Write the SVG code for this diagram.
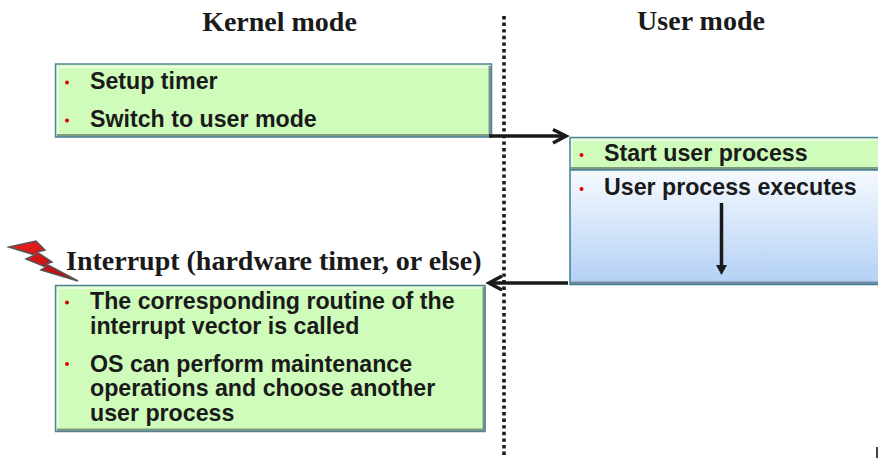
<svg xmlns="http://www.w3.org/2000/svg" width="878" height="458" viewBox="0 0 878 458">
<style>
.t{font-family:"Liberation Sans",Arial,sans-serif;font-weight:700;font-size:23.2px;fill:#1a1a1a}
.h{font-family:"Liberation Serif","Times New Roman",serif;font-weight:700;font-size:28px;fill:#1a1a1a}
.b{fill:#d90000}
.g{fill:#cffcbb}
.f{fill:none;stroke:#4e8299;stroke-width:1.5}
.hi{fill:none;stroke:#eafde2;stroke-width:2}
.sh{fill:none;stroke:#7f9a80;stroke-width:3}
.c{fill:none;stroke:#1a1a1a;stroke-width:3.5}
</style>
<defs>
<linearGradient id="blue" x1="0" y1="0" x2="0" y2="1"><stop offset="0" stop-color="#f6faff"/><stop offset="1" stop-color="#b3d0f5"/></linearGradient>
<linearGradient id="bolt" x1="0" y1="0" x2="1" y2="1"><stop offset="0" stop-color="#f02020"/><stop offset="1" stop-color="#b00808"/></linearGradient>
</defs>
<rect width="878" height="458" fill="#fff"/>

<g id="divider"><line x1="504" y1="16" x2="504" y2="458" stroke="#1a1a1a" stroke-width="3.6" stroke-dasharray="3.4 3.2"/></g>

<g id="kernel-title"><text class="h" x="279.500" y="31" text-anchor="middle">Kernel mode</text></g>
<g id="user-title"><text class="h" x="701" y="30" text-anchor="middle">User mode</text></g>

<g id="kernel-box-1">
<rect class="g" x="56" y="64.500" width="435" height="72"/>
<path class="hi" d="M58 135V67H489"/>
<path class="sh" d="M57 135.500H490V66"/>
<rect class="f" x="55.500" y="64" width="436" height="73"/>
<circle class="b" cx="67" cy="82.500" r="2"/><text class="t" x="90" y="89">Setup timer</text>
<circle class="b" cx="67" cy="120.500" r="2"/><text class="t" x="90" y="127">Switch to user mode</text>
</g>

<g id="interrupt-label">
<path d="M9 247L36 241L45 250L37 252L52 262L46 264L78 281L41 270L46 267L26 259L35 255Z" fill="url(#bolt)" stroke="#555" stroke-width="1.500"/>
<text class="h" x="66" y="270">Interrupt (hardware timer, or else)</text>
</g>

<g id="kernel-box-2">
<rect class="g" x="56" y="286" width="429" height="145"/>
<path class="hi" d="M58 430V288H483"/>
<path class="sh" d="M57 430H484V287"/>
<rect class="f" x="55.500" y="285.500" width="429.500" height="146"/>
<circle class="b" cx="67" cy="302.500" r="2"/>
<text class="t" x="90" y="309">The corresponding routine of the</text>
<text class="t" x="90" y="334">interrupt vector is called</text>
<circle class="b" cx="67" cy="364" r="2"/>
<text class="t" x="90" y="372">OS can perform maintenance</text>
<text class="t" x="90" y="396">operations and choose another</text>
<text class="t" x="90" y="421">user process</text>
</g>

<g id="user-start">
<rect class="g" x="570" y="138" width="309" height="32"/>
<path class="hi" d="M572 168V140H879"/>
<path class="sh" d="M571 168.500H879"/>
<path class="f" d="M879 137.500H570V170"/>
<circle class="b" cx="581.500" cy="155" r="2"/>
<text class="t" x="604" y="161">Start user process</text>
</g>

<g id="user-exec">
<rect x="570" y="170" width="309" height="114" fill="url(#blue)"/>
<path d="M571 283H879" fill="none" stroke="#77899e" stroke-width="3"/>
<path d="M879 170H570V284.500H879" fill="none" stroke="#3f7f9a" stroke-width="1.500"/>
<circle class="b" cx="581.500" cy="189" r="2"/>
<text class="t" x="604" y="195">User process executes</text>
</g>

<g id="connectors">
<path class="c" d="M489 136H565"/>
<path class="c" d="M553 129.500L566 136L553 143"/>
<line x1="721.500" y1="203" x2="721.500" y2="266" stroke="#1a1a1a" stroke-width="3.500"/>
<path d="M716 265H727L721.500 275Z" fill="#1a1a1a"/>
<path class="c" d="M568 283H489"/>
<path class="c" d="M502 276L489 283L502 290"/>
</g>
<g id="edge-mark"><rect x="876" y="447" width="2" height="11" fill="#444"/></g>
</svg>
